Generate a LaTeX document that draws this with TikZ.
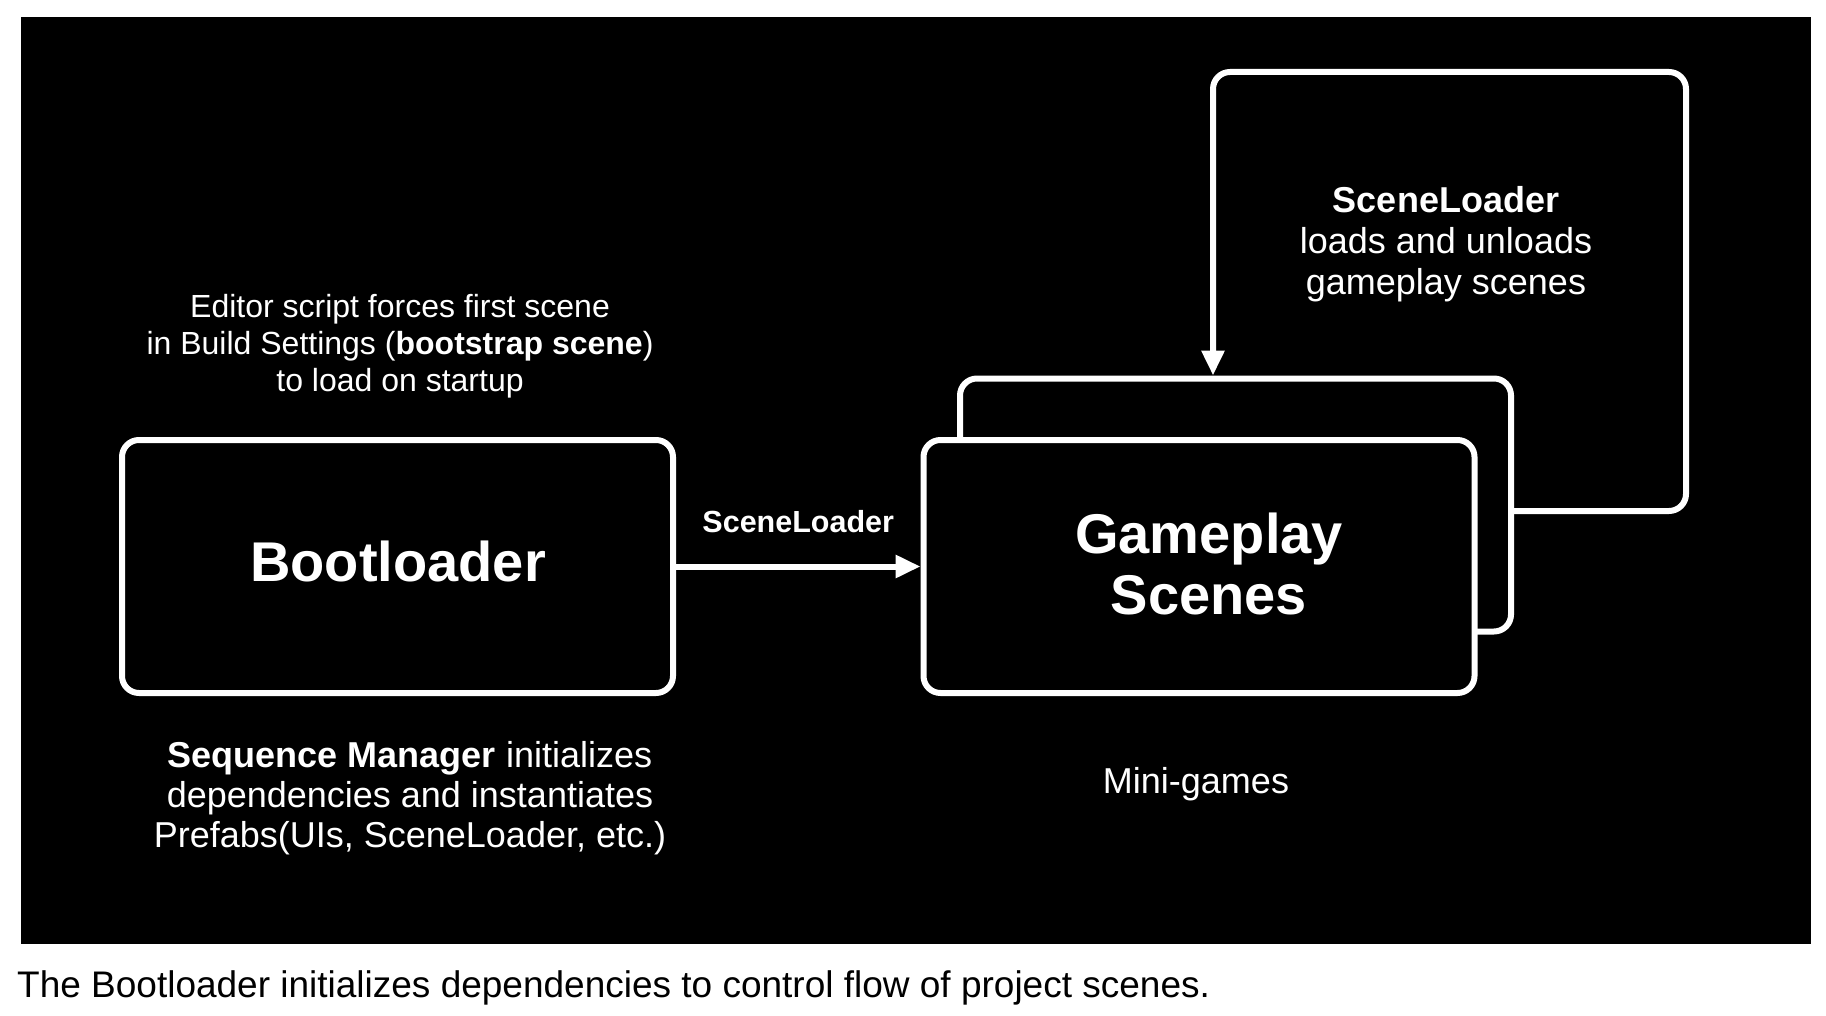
\documentclass[tikz,border=0pt]{standalone}
\usepackage{fontspec}
\setmainfont{Liberation Sans}
\usetikzlibrary{arrows.meta}
\begin{document}
\begin{tikzpicture}[x=1pt,y=-1pt,
    box/.style={draw=white,line width=6pt,rounded corners=17pt,fill=black,minimum width=551pt,minimum height=253pt,inner sep=0pt,text=white},
    arrow/.style={draw=white,line width=6pt,-{Triangle[length=25pt,width=22pt]}},
    note/.style={text=white,align=center,inner sep=0pt}]
    \useasboundingbox (0,0) rectangle (1826,1016);
    \fill[black] (21,17.5) rectangle (1811,944);
    \node[box] (boot) at (397.5,566.5) {};
    \node[note,font=\bfseries\fontsize{56}{61}\selectfont] (bootTxt) at (398,561.5) {Bootloader};
    \node[box] (back) at (1235.5,505) {};
    \node[box] (front) at (1199,566.5) {};
    \node[note,font=\bfseries\fontsize{56}{61}\selectfont] (frontTxt) at (1209,564) {Gameplay\\Scenes};
    \draw[arrow] (boot) -- (front) node[midway,above=27pt,text=white,font=\bfseries\fontsize{30.5}{34}\selectfont] (sceneLbl) {SceneLoader};
    \coordinate (loopR) at (1686,72);
    \coordinate (loopL) at (1213,72);
    \draw[arrow,rounded corners=17pt] ([yshift=-6pt]back.east) -| (loopR) -- (loopL) -- (loopL |- back.north);
    \node[note,font=\fontsize{36}{41}\selectfont] (loopTxt) at (1446,244.5) {\textbf{SceneLoader}\\loads and unloads\\gameplay scenes};
    \node[note,font=\fontsize{32}{37}\selectfont] (editorTxt) at (400,346.5) {Editor script forces first scene\\in Build Settings (\textbf{bootstrap scene})\\to load on startup};
    \node[note,font=\fontsize{36}{40}\selectfont] (seqTxt) at (410,798.5) {\textbf{Sequence Manager} initializes\\dependencies and instantiates\\Prefabs(UIs, SceneLoader, etc.)};
    \node[note,font=\fontsize{36}{40}\selectfont] (miniTxt) at (1196,784.5) {Mini-games};
    \node[anchor=base west,inner sep=0pt,font=\fontsize{37}{40}\selectfont] (caption) at (17,997) {The Bootloader initializes dependencies to control flow of project scenes.};
\end{tikzpicture}
\end{document}
